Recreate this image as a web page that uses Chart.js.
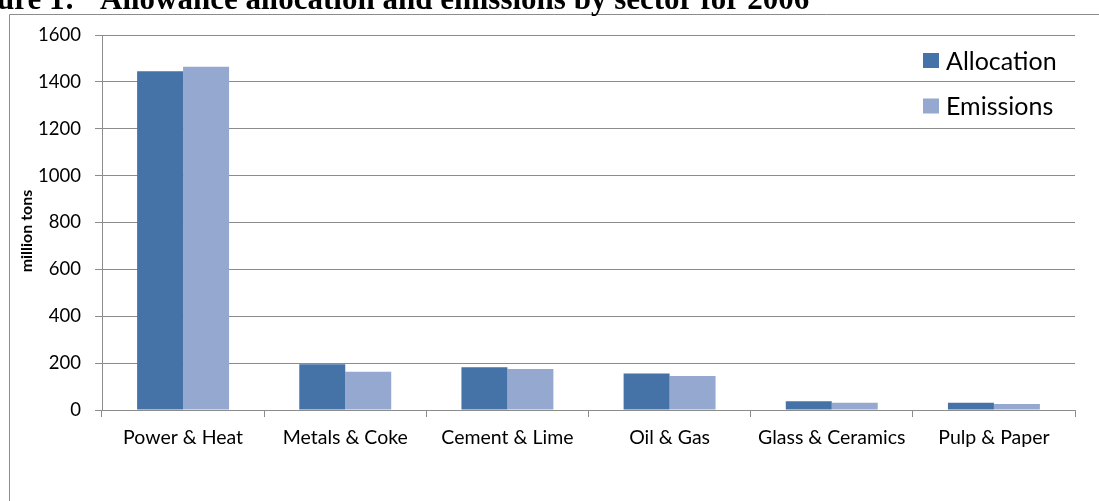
<!DOCTYPE html>
<html>
<head>
<meta charset="utf-8">
<script src="https://cdn.jsdelivr.net/npm/chart.js@4/dist/chart.umd.min.js"></script>
<style>
  body { margin: 0; background: #fff; overflow: hidden; }
  #wrap { position: relative; width: 1099px; height: 501px; }
  #myChart { position: absolute; left: 0; top: 0; }
  .cap {
    position: absolute; top: -17px; white-space: nowrap;
    font-family: 'Liberation Serif', 'Times New Roman', serif;
    font-weight: bold; font-size: 31px; line-height: 31px; color: #000;
  }
</style>
</head>
<body>
<div id="wrap">
  <canvas id="myChart" width="1099" height="501"></canvas>
  <span class="cap" style="left:-46px">Figure 1:</span>
  <span class="cap" style="left:100px">Allowance allocation and emissions by sector for 2006</span>
</div>
<script>
const sectors = ['Power & Heat', 'Metals & Coke', 'Cement & Lime', 'Oil & Gas', 'Glass & Ceramics', 'Pulp & Paper'];
const allocation = [1445, 195, 182, 156, 37, 31];
const emissions = [1465, 163, 175, 145, 31, 26];
const yTicks = [0, 200, 400, 600, 800, 1000, 1200, 1400, 1600];

const gray = '#8c8c8c';
const ctx = document.getElementById('myChart').getContext('2d');

// frame round the chart, y title and the legend drawn on the canvas
const extras = {
    id: 'extras',
    beforeDraw(chart) {
        const c = chart.ctx;
        c.save();
        c.strokeStyle = gray;
        c.lineWidth = 1;
        c.beginPath();
        c.moveTo(9.5, 501);
        c.lineTo(9.5, 14.5);
        c.lineTo(1099, 14.5);
        c.stroke();
        c.restore();
    },
    afterDraw(chart) {
        const c = chart.ctx;
        c.save();
        c.fillStyle = '#000';
        c.font = 'bold 16px Lato';
        c.textAlign = 'center';
        c.textBaseline = 'middle';
        c.translate(27, 231);
        c.rotate(-Math.PI / 2);
        c.fillText('million tons', 0, 0);
        c.restore();

        c.save();
        c.font = '25px Lato';
        c.textBaseline = 'middle';
        c.textAlign = 'left';
        chart.data.datasets.forEach((ds, i) => {
            const y = 60.5 + i * 45.5;
            c.fillStyle = ds.backgroundColor;
            c.fillRect(923, y - 7.5, 16, 15);
            c.fillStyle = '#000';
            c.fillText(ds.label, 946, y + 1);
        });
        c.restore();
    }
};

const myChart = new Chart(ctx, {
    type: 'bar',
    data: {
        labels: sectors,
        datasets: [
            { label: 'Allocation', data: allocation, backgroundColor: '#4572A7',
              categoryPercentage: 0.567, barPercentage: 1.0 },
            { label: 'Emissions', data: emissions, backgroundColor: '#95A9D0',
              categoryPercentage: 0.567, barPercentage: 1.0 }
        ]
    },
    options: {
        responsive: false,
        animation: false,
        layout: { padding: { top: 35, right: 24, bottom: 0, left: 0 } },
        plugins: { legend: { display: false }, tooltip: { enabled: false } },
        scales: {
            x: {
                grid: { offset: true, drawOnChartArea: false, tickLength: 7, color: gray },
                border: { color: gray },
                ticks: { color: '#000', font: { family: 'Lato', size: 19.5 }, padding: 9, maxRotation: 0 },
                afterFit(scale) { scale.height = 91; }
            },
            y: {
                min: 0,
                max: 1600,
                afterBuildTicks(scale) { scale.ticks = yTicks.map(v => ({ value: v })); },
                grid: { color: gray, tickLength: 7 },
                border: { color: gray },
                ticks: { color: '#000', font: { family: 'Lato', size: 18.5 }, padding: 14,
                         callback: v => String(v) },
                afterFit(scale) { scale.width = 102; }
            }
        }
    },
    plugins: [extras]
});
</script>
</body>
</html>
